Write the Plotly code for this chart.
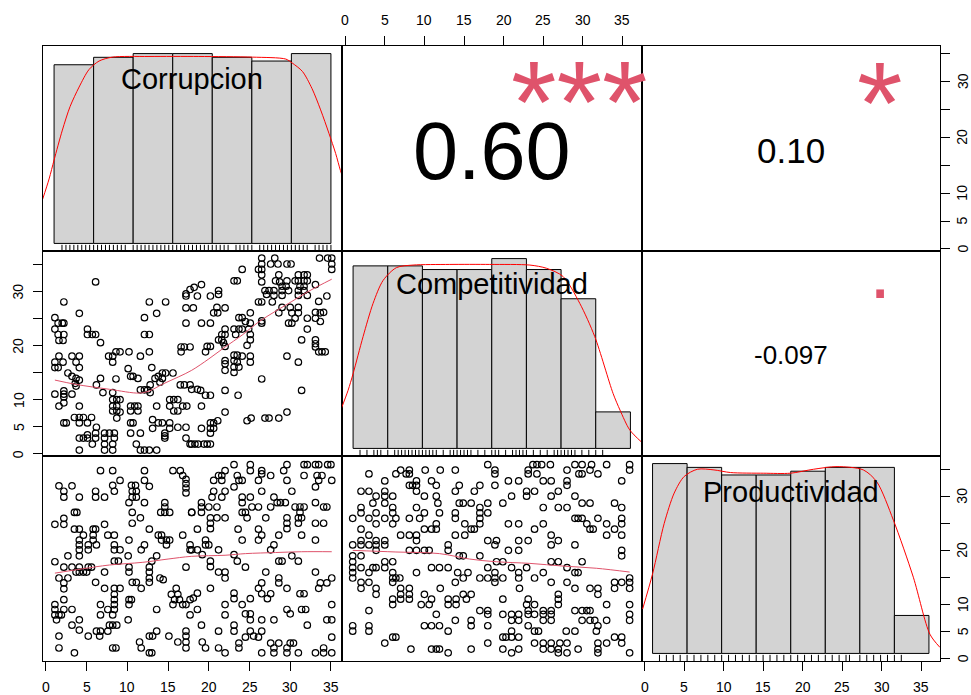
import plotly.graph_objects as go

# ---------------------------------------------------------------- data
variables = ["Corrupcion", "Competitividad", "Productividad"]
data_min = [1, 1, 1]
data_max = [35, 36, 36]

corr_breaks = [0, 5, 10, 15, 20, 25, 30, 35]
corr_counts = [48, 50, 51, 51, 50, 49, 51]
comp_breaks = [0, 5, 10, 15, 20, 25, 30, 35, 40]
comp_counts = [50, 50, 49, 49, 52, 49, 41, 10]
prod_breaks = [0, 5, 10, 15, 20, 25, 30, 35, 40]
prod_counts = [50, 49, 47, 47, 48, 49, 49, 10]

# kernel density curves (histogram units)
corr_dens_x = [-1.47, -0.63, 0.0, 1.05, 2.02, 3.16, 4.42, 5.69, 7.37, 12.0, 18.3, 25.1, 29.3, 30.1, 31.4, 32.6, 33.7, 34.75, 35.6, 36.2, 36.6]
corr_dens_y = [0.0067, 0.0099, 0.0128, 0.0174, 0.0210, 0.0240, 0.0267, 0.0280, 0.0286, 0.0287, 0.0287, 0.0286, 0.0283, 0.0277, 0.0264, 0.0238, 0.0205, 0.0169, 0.0138, 0.0112, 0.0098]
comp_dens_x = [-1.68, -0.72, 0.0, 1.44, 2.88, 4.33, 6.25, 8.65, 13.94, 19.7, 25.5, 27.9, 30.3, 32.7, 34.86, 37.5, 38.5, 39.9, 41.6]
comp_dens_y = [0.0063, 0.0091, 0.0117, 0.0175, 0.0227, 0.0263, 0.0283, 0.0287, 0.0288, 0.0288, 0.0287, 0.0282, 0.0269, 0.0227, 0.0175, 0.0086, 0.0060, 0.0029, 0.0010]
prod_dens_x = [-1.44, 0.0, 1.68, 3.13, 4.57, 6.49, 8.89, 11.3, 16.1, 19.95, 23.3, 26.7, 30.5, 32.45, 34.86, 37.74, 40.14, 41.6]
prod_dens_y = [0.0067, 0.0120, 0.0196, 0.0242, 0.0267, 0.0278, 0.0277, 0.0273, 0.0272, 0.0272, 0.0278, 0.0282, 0.0277, 0.0259, 0.0201, 0.0115, 0.0029, 0.0009]

# scatter: Corrupcion (x) vs Competitividad (y)
pts_corr_comp = [
    (6.1, 31.7), (2.2, 28.0), (4.1, 25.9), (1.1, 25.1), (1.5, 24.1), (2.0, 24.1), (2.2, 24.1), (1.1, 23.0), (1.5, 22.0), (2.2, 22.0),
    (1.6, 20.9), (2.1, 20.9), (5.1, 23.0), (5.1, 22.0), (5.7, 22.0), (6.1, 22.0), (6.7, 20.5), (1.6, 18.0), (1.1, 16.9), (2.1, 16.9),
    (1.1, 15.9), (1.5, 15.9), (3.2, 18.0), (4.1, 18.0), (3.7, 16.9), (4.1, 15.9), (2.7, 14.9), (3.2, 14.3), (3.7, 13.9), (4.1, 13.6),
    (3.6, 13.0), (3.7, 12.5), (1.1, 11.0), (2.2, 11.6), (2.2, 11.0), (2.2, 10.5), (1.6, 8.8), (2.2, 9.4), (3.2, 11.0), (4.1, 8.8),
    (3.5, 6.7), (4.1, 6.7), (4.6, 6.7), (5.6, 6.7), (2.2, 5.7), (2.5, 5.7), (4.1, 5.7), (5.1, 5.7), (6.2, 4.9), (4.1, 2.9),
    (4.6, 2.9), (5.1, 2.9), (6.1, 2.9), (5.1, 3.5), (6.1, 3.8), (4.1, 0.7), (5.7, 1.8), (7.2, 3.8), (7.8, 3.8), (8.4, 3.8),
    (7.2, 2.9), (8.4, 2.9), (7.2, 1.8), (8.2, 1.8), (7.2, 0.7), (8.2, 0.7), (6.7, 13.9), (6.2, 12.7), (7.7, 18.0), (8.2, 18.0),
    (8.6, 18.8), (9.1, 18.8), (8.2, 16.9), (10.2, 18.8), (8.6, 13.8), (7.0, 11.3), (8.2, 11.3), (8.2, 10.0), (8.7, 10.0), (9.1, 10.0),
    (8.2, 8.8), (8.7, 8.8), (8.2, 7.9), (8.7, 7.9), (9.1, 7.7), (8.7, 6.6), (10.4, 8.8), (10.9, 8.8), (11.3, 8.8), (10.4, 7.9),
    (11.3, 7.9), (10.4, 5.7), (10.7, 5.7), (10.4, 3.8), (11.6, 3.8), (10.1, 15.7), (10.4, 14.3), (10.7, 14.3), (11.3, 13.9), (11.6, 11.8),
    (12.1, 11.8), (12.5, 11.8), (12.8, 12.7), (12.8, 11.3), (11.1, 1.8), (11.6, 0.7), (12.1, 0.7), (12.7, 0.7), (13.6, 0.7), (11.6, 18.0),
    (12.7, 18.8), (12.1, 25.1), (12.7, 28.0), (13.6, 25.9), (14.7, 28.0), (12.1, 22.0), (12.7, 22.0), (13.0, 15.9), (13.6, 8.8), (13.4, 13.9),
    (13.8, 14.3), (14.3, 14.9), (14.7, 14.9), (15.6, 14.9), (14.0, 13.2), (14.3, 13.9), (13.1, 6.3), (13.8, 5.7), (14.3, 5.7), (13.1, 4.7),
    (14.6, 3.8), (14.6, 3.3), (14.6, 2.9), (15.2, 5.7), (15.2, 4.7), (16.2, 4.9), (17.2, 4.9), (15.2, 10.0), (15.7, 10.0), (16.2, 10.0),
    (15.2, 8.8), (15.7, 7.9), (16.2, 7.9), (16.8, 8.8), (17.3, 8.8), (16.5, 12.7), (17.0, 12.7), (17.7, 12.7), (17.2, 26.9), (17.2, 29.1),
    (17.2, 29.5), (17.7, 30.3), (16.6, 19.7), (17.0, 19.7), (17.7, 19.7), (16.6, 18.8), (17.2, 24.1), (17.2, 2.9), (17.7, 1.8),
    (26.5, 36.1), (28.1, 36.1), (33.6, 36.1), (34.6, 36.1), (35.1, 36.1), (26.5, 35.0), (27.6, 35.0), (28.5, 35.0), (29.6, 35.0), (30.1, 35.0),
    (35.1, 35.0), (35.1, 34.0), (24.1, 34.0), (26.1, 34.0), (26.5, 34.0), (26.5, 33.0), (28.6, 33.0), (31.0, 33.0), (31.7, 33.0), (32.1, 33.0),
    (23.1, 31.9), (23.5, 31.9), (26.5, 31.7), (28.2, 31.9), (28.7, 31.7), (29.6, 31.9), (30.6, 31.9), (31.0, 31.9), (31.7, 31.9), (32.1, 31.9),
    (29.0, 30.9), (29.5, 30.9), (31.2, 30.9), (31.7, 30.9), (33.1, 31.2), (26.9, 30.1), (27.4, 30.1), (28.0, 30.1), (29.0, 30.1), (29.8, 30.1),
    (31.0, 30.1), (31.7, 30.1), (27.1, 29.4), (28.0, 29.2), (29.0, 29.2), (31.0, 29.2), (32.1, 29.2), (21.2, 30.1), (21.2, 29.4), (19.1, 31.2),
    (18.2, 30.7), (18.6, 29.1), (20.2, 29.1), (18.1, 26.9), (21.0, 27.0), (22.0, 26.9), (20.6, 26.0), (21.1, 26.0), (26.1, 28.0), (26.5, 28.0),
    (27.8, 28.0), (29.0, 27.0), (30.0, 27.0), (31.0, 27.0), (33.5, 28.1), (34.5, 29.1), (33.1, 26.1), (33.7, 26.0), (34.1, 26.1), (28.6, 26.0),
    (30.2, 26.0), (31.0, 26.0), (23.7, 25.1), (24.1, 25.1), (25.1, 26.0), (24.5, 24.4), (25.1, 24.1), (26.5, 24.5), (26.5, 24.1), (29.8, 24.1),
    (30.2, 24.1), (30.6, 25.0), (32.1, 25.0), (33.1, 25.0), (33.7, 24.4), (19.1, 24.1), (20.2, 24.1), (23.1, 23.0), (23.7, 23.0), (24.1, 23.0),
    (24.9, 23.0), (32.1, 23.0), (22.0, 23.0), (21.6, 22.0), (22.0, 22.0), (21.2, 21.0), (21.6, 21.0), (21.8, 20.5), (23.3, 22.0), (25.1, 22.0),
    (25.1, 21.0), (24.7, 20.0), (19.8, 19.8), (20.2, 19.8), (19.6, 18.8), (22.0, 19.8), (31.4, 21.0), (33.1, 21.0), (33.1, 20.3), (33.1, 19.7),
    (33.5, 18.8), (33.9, 18.8), (34.3, 18.8), (23.1, 18.2), (23.5, 18.2), (24.1, 18.0), (25.1, 18.0), (22.0, 17.2), (22.0, 16.6), (22.0, 15.4),
    (23.1, 17.2), (23.5, 16.9), (23.1, 16.0), (23.1, 15.0), (23.7, 16.0), (25.1, 16.9), (29.6, 18.0), (31.0, 16.9), (26.5, 13.8), (31.4, 11.7),
    (17.9, 11.9), (18.6, 11.9), (19.0, 11.7), (19.6, 10.8), (20.2, 10.8), (22.0, 11.7), (23.6, 10.8), (19.1, 8.8), (22.0, 7.7), (24.7, 6.1),
    (25.2, 6.6), (26.9, 6.6), (27.4, 6.6), (28.6, 6.6), (29.6, 7.7), (21.1, 6.1), (20.2, 5.7), (20.6, 5.7), (19.1, 4.7), (20.2, 4.7),
    (20.6, 4.7), (20.2, 3.8), (17.9, 1.8), (18.3, 1.8), (18.7, 1.8), (19.4, 1.8), (19.8, 1.8), (20.2, 1.8),
]

# scatter: Corrupcion (x) vs Productividad (y)
pts_corr_prod = [
    (6.7, 34.7), (8.2, 34.7), (12.1, 34.7), (15.6, 34.7), (16.5, 34.7), (16.8, 33.8), (17.2, 33.1), (17.2, 32.3), (17.2, 31.5), (17.2, 30.6),
    (9.1, 32.9), (12.1, 32.9), (8.2, 32.0), (10.5, 32.0), (11.0, 32.0), (12.7, 31.8), (1.6, 31.9), (2.2, 30.9), (2.2, 29.8), (3.2, 31.9),
    (4.1, 29.8), (6.1, 30.9), (6.1, 29.8), (7.2, 29.8), (8.4, 30.9), (10.6, 30.9), (11.1, 30.9), (10.6, 29.8), (11.1, 29.8), (10.2, 28.8),
    (12.1, 28.8), (14.6, 28.8), (14.6, 28.0), (14.1, 27.0), (14.6, 27.0), (15.2, 27.0), (17.9, 27.0), (3.5, 27.0), (3.8, 27.0), (10.6, 27.0),
    (11.6, 26.0), (10.6, 25.0), (1.1, 24.8), (2.2, 25.9), (2.2, 24.8), (3.5, 23.9), (4.1, 23.9), (5.8, 23.9), (6.1, 23.9), (7.2, 24.8),
    (4.6, 22.8), (5.8, 22.8), (7.6, 22.8), (8.4, 22.8), (4.1, 21.9), (4.1, 21.0), (5.2, 21.0), (5.8, 21.9), (6.2, 21.0), (12.7, 23.9),
    (13.8, 22.8), (14.2, 22.8), (14.2, 21.9), (14.8, 21.9), (15.2, 21.9), (14.8, 21.0), (16.8, 22.8), (10.2, 21.9), (12.1, 21.0), (8.4, 21.0),
    (8.4, 20.1), (9.1, 20.1), (4.1, 20.1), (4.1, 19.0), (2.7, 19.0), (5.2, 20.1), (17.7, 21.0), (17.7, 20.1), (10.1, 19.0), (11.7, 20.1),
    (13.6, 19.0), (13.0, 18.0), (1.1, 17.9), (2.2, 16.9), (3.2, 16.9), (4.1, 16.9), (4.6, 16.0), (5.2, 16.9), (5.6, 16.9), (3.7, 16.0),
    (4.1, 16.0), (5.0, 16.0), (1.6, 14.9), (2.7, 14.9), (2.2, 14.0), (2.2, 12.9), (7.2, 16.0), (8.4, 18.0), (8.9, 18.0), (10.2, 16.9),
    (10.2, 16.0), (12.7, 16.9), (12.7, 16.0), (12.7, 14.9), (12.7, 14.1), (14.0, 14.9), (14.4, 14.6), (17.2, 16.9), (6.1, 14.1), (7.2, 13.0),
    (10.6, 14.1), (11.1, 14.1), (11.7, 13.0), (8.4, 13.0), (9.1, 13.0), (8.4, 11.9), (8.4, 10.9), (8.4, 10.0), (8.4, 9.1), (8.2, 8.1),
    (10.2, 10.9), (10.5, 10.9), (10.2, 10.0), (15.4, 11.9), (16.0, 13.0), (16.2, 11.9), (15.8, 10.9), (16.4, 10.9), (15.6, 10.0), (16.8, 10.0),
    (17.2, 10.0), (17.7, 10.9), (1.1, 10.0), (1.1, 9.1), (1.1, 8.1), (2.2, 10.9), (2.2, 9.1), (1.6, 8.1), (1.9, 8.1), (1.3, 7.2),
    (3.2, 9.1), (6.7, 10.0), (6.7, 8.1), (7.6, 9.1), (13.6, 9.1), (17.7, 8.1), (4.1, 7.2), (3.2, 6.2), (4.1, 5.3), (7.8, 6.2),
    (8.2, 6.2), (8.7, 6.2), (7.6, 5.1), (6.7, 5.1), (6.2, 5.1), (10.1, 7.2), (1.6, 4.2), (1.6, 2.0), (3.5, 1.1), (5.2, 4.2),
    (6.6, 4.2), (13.6, 5.1), (12.7, 4.2), (13.1, 4.2), (11.5, 3.1), (11.7, 2.0), (12.7, 1.1), (13.0, 1.1), (15.1, 4.2), (16.2, 3.1),
    (17.2, 5.1), (17.2, 4.2), (17.2, 3.1), (17.2, 2.0), (8.2, 2.0), (8.6, 2.0),
    (23.1, 35.8), (25.1, 35.8), (25.1, 34.7), (29.6, 35.8), (31.7, 35.8), (32.1, 35.8), (33.1, 35.8), (33.5, 35.8), (34.6, 35.8), (35.0, 35.8),
    (22.0, 34.7), (21.6, 33.8), (21.2, 33.8), (20.6, 32.9), (21.6, 32.9), (23.5, 33.8), (23.7, 32.9), (24.1, 32.9), (26.5, 34.7), (26.5, 34.1),
    (26.1, 32.9), (27.6, 33.8), (29.2, 34.7), (29.6, 32.9), (31.7, 33.8), (33.3, 33.8), (33.9, 33.8), (33.5, 32.9), (35.1, 32.9), (33.1, 31.7),
    (23.1, 31.7), (26.5, 30.9), (30.2, 30.9), (20.6, 30.9), (22.0, 30.9), (20.4, 29.8), (21.6, 29.8), (24.1, 29.8), (25.1, 29.8), (24.1, 28.8),
    (28.0, 29.8), (28.4, 28.8), (28.8, 28.8), (29.4, 28.8), (33.1, 28.8), (19.1, 28.8), (19.1, 28.0), (20.0, 28.0), (21.0, 28.0), (17.9, 27.0),
    (19.1, 27.0), (24.1, 27.0), (24.5, 27.0), (24.7, 26.0), (25.3, 28.0), (26.1, 28.0), (27.6, 28.0), (30.6, 28.0), (31.2, 28.0), (31.7, 28.0),
    (31.2, 27.0), (34.1, 28.0), (34.5, 28.0), (20.2, 26.0), (21.0, 26.0), (22.0, 26.0), (27.0, 26.0), (29.6, 26.0), (31.0, 26.0), (31.4, 26.0),
    (20.2, 25.0), (20.2, 24.0), (29.6, 25.0), (29.6, 24.0), (31.0, 25.0), (33.1, 25.0), (34.1, 25.0), (18.6, 23.9), (23.6, 23.9), (26.1, 23.9),
    (26.5, 22.8), (28.6, 22.8), (31.4, 22.8), (26.1, 21.9), (24.1, 21.9), (33.1, 21.9), (19.6, 21.9), (19.6, 21.0), (20.0, 21.0), (17.9, 20.1),
    (18.6, 20.1), (19.2, 19.2), (21.2, 20.1), (28.0, 21.0), (27.6, 20.1), (23.1, 19.2), (23.5, 18.0), (24.5, 16.9), (20.2, 18.0), (20.2, 17.0),
    (21.2, 16.0), (22.0, 16.0), (22.0, 14.9), (28.6, 18.0), (29.0, 18.0), (30.2, 19.0), (31.0, 18.0), (33.1, 16.0), (27.0, 16.0), (26.5, 14.0),
    (26.1, 13.0), (28.6, 14.9), (28.6, 14.0), (29.6, 13.0), (33.7, 14.0), (34.5, 14.0), (35.1, 14.9), (33.5, 13.0), (20.2, 13.0), (18.6, 12.1),
    (18.1, 11.2), (23.1, 12.1), (23.1, 11.1), (22.0, 10.0), (22.0, 8.1), (24.1, 10.0), (25.1, 11.1), (26.5, 12.0), (27.2, 11.1), (27.6, 12.0),
    (18.6, 9.1), (29.6, 9.1), (30.0, 8.3), (31.4, 9.1), (31.9, 9.1), (31.7, 12.0), (31.2, 12.0), (35.1, 10.0), (34.5, 7.2), (35.1, 7.2),
    (24.5, 8.3), (25.1, 8.3), (25.1, 7.2), (26.5, 7.2), (28.0, 7.2), (32.1, 6.2), (19.1, 6.2), (21.2, 5.1), (23.1, 6.2), (23.1, 5.1),
    (25.1, 5.1), (26.5, 5.1), (25.5, 4.2), (24.5, 4.0), (26.1, 4.0), (35.1, 4.0), (19.2, 3.1), (19.6, 2.0), (21.2, 2.0), (22.0, 1.1),
    (23.7, 2.9), (23.7, 2.0), (26.5, 1.1), (27.6, 2.9), (28.6, 2.9), (28.0, 2.0), (28.0, 1.1), (29.6, 2.0), (30.0, 2.9), (30.4, 2.9),
    (31.0, 1.1), (29.6, 1.1), (33.1, 1.1), (34.1, 2.0), (34.1, 1.1), (35.1, 1.1),
]

# scatter: Competitividad (x) vs Productividad (y), listed by Productividad level
prod_levels = [35.8, 34.8, 34.1, 32.8, 32.0, 30.9, 30.0, 28.7, 27.9, 26.9, 25.9, 24.9, 23.9, 22.8, 21.8, 21.0, 20.0, 19.0,
               17.9, 16.8, 15.9, 14.9, 14.1, 13.0, 11.9, 11.0, 10.0, 8.9, 8.2, 7.1, 6.1, 5.1, 4.0, 2.9, 1.8, 1.1]
comp_at_level = [
    [18.0, 23.7, 24.2, 24.8, 25.9, 29.0, 29.9, 31.1, 33.0, 35.9],
    [7.0, 8.1, 10.1, 12.0, 13.9, 18.9, 23.1, 28.0, 30.9, 35.9],
    [8.1, 18.9, 23.1, 24.2, 29.5, 29.9, 31.9, 3.0, 6.4, 7.7],
    [5.0, 9.0, 10.9, 20.6, 21.9, 25.0, 26.0, 28.0, 34.9],
    [8.1, 8.5, 9.0, 11.5, 14.4, 17.0, 18.9, 28.0],
    [2.0, 3.0, 5.0, 9.0, 13.9, 16.3, 22.9, 23.9, 26.9],
    [3.9, 5.0, 6.0, 10.0, 11.5, 21.0, 22.9, 26.0, 29.0],
    [3.5, 5.0, 11.7, 14.4, 14.9, 15.9, 18.0, 19.9, 29.9, 30.9, 34.0],
    [2.0, 6.0, 9.0, 25.0, 26.9, 28.0, 34.9, 17.0],
    [2.0, 3.9, 6.0, 10.0, 11.9, 13.9, 17.0, 18.0],
    [0.95, 3.0, 5.0, 6.4, 8.1, 9.4, 13.9, 17.0, 29.0, 29.4, 29.9, 31.9, 34.9],
    [3.9, 6.0, 11.5, 15.1, 17.0, 20.6, 21.9, 25.0, 30.5, 33.0, 34.9],
    [2.0, 10.0, 10.9, 11.5, 15.9, 16.3, 23.9, 30.9, 31.3, 34.0],
    [3.0, 7.0, 8.1, 9.0, 13.9, 15.1, 26.0, 33.0, 34.9],
    [2.0, 3.9, 5.0, 9.0, 18.0, 19.1, 21.9, 23.1, 26.9],
    [0.95, 2.0, 3.0, 3.9, 5.0, 13.0, 18.9, 26.0, 29.0],
    [3.9, 8.1, 9.0, 10.0, 10.6, 13.0, 20.6, 21.9, 34.9],
    [0.95, 2.0, 14.4, 14.9, 17.0, 34.9],
    [0.95, 5.0, 6.0, 19.1, 19.9, 26.0, 26.9, 29.9],
    [0.95, 2.0, 3.5, 3.9, 5.0, 10.9, 11.9, 13.0, 18.0, 21.0, 22.9, 28.0],
    [0.95, 3.0, 6.0, 9.0, 14.2, 15.5, 18.9, 21.9, 25.0, 29.0, 29.4],
    [0.95, 6.0, 6.4, 6.9, 14.9, 17.0, 18.0, 18.9, 19.9, 21.9, 23.9, 35.9],
    [2.0, 3.0, 6.0, 13.9, 18.9, 26.0, 28.0, 34.0, 34.9, 35.9],
    [2.0, 3.9, 7.0, 8.1, 12.0, 22.0, 29.0, 30.9, 31.9, 34.0, 35.9],
    [3.9, 7.0, 8.1, 10.0, 14.9, 15.9, 26.9, 31.9],
    [6.0, 7.0, 8.1, 10.9, 13.0, 14.0, 15.3, 19.9, 23.1, 26.9],
    [6.0, 9.6, 10.6, 13.0, 14.0, 22.9, 23.9, 26.9, 33.0, 35.9],
    [3.0, 17.0, 18.0, 23.1, 25.0, 26.0, 29.0, 29.9, 30.5, 30.9],
    [11.5, 18.0, 19.9, 21.0, 21.9, 23.1, 23.9, 25.0, 26.0, 35.9],
    [13.9, 15.9, 21.0, 21.9, 25.0, 26.0, 29.9, 30.9, 31.5, 33.0, 35.9],
    [0.95, 3.0, 10.0, 10.9, 11.9, 15.9, 18.0, 23.1, 31.9],
    [0.95, 3.0, 13.0, 21.0, 23.9, 24.4, 27.9, 29.0, 31.7],
    [6.0, 6.4, 19.9, 20.3, 21.0, 21.9, 34.0, 34.9],
    [5.0, 18.0, 23.9, 25.0, 26.0, 27.1, 28.0, 31.9, 33.0, 34.9],
    [8.3, 10.9, 11.5, 11.9, 15.9, 19.9, 21.9, 25.0, 26.0, 26.9, 29.4, 31.9],
    [13.0, 21.0, 26.9, 28.0, 31.9, 35.9],
]

# smoothed (lowess) lines
smooth_corr_comp_x = [1.1, 3.7, 7.8, 11.5, 12.7, 14.4, 16.3, 17.9, 20.0, 22.0, 24.1, 26.1, 28.2, 30.2, 32.3, 35.1]
smooth_corr_comp_y = [13.6, 12.8, 11.9, 11.2, 11.6, 12.9, 14.2, 15.4, 17.5, 19.7, 21.9, 24.3, 26.3, 28.1, 30.0, 32.2]
smooth_corr_prod_x = [1.1, 4.5, 7.8, 11.9, 15.0, 17.9, 22.0, 24.5, 28.2, 31.4, 35.1]
smooth_corr_prod_y = [15.8, 16.6, 17.3, 17.8, 18.4, 18.9, 19.1, 19.4, 19.6, 19.75, 19.75]
smooth_comp_prod_x = [0.95, 6.4, 11.9, 15.7, 19.1, 23.3, 27.5, 31.7, 35.9]
smooth_comp_prod_y = [20.0, 19.7, 19.4, 18.4, 17.9, 17.6, 17.1, 16.7, 16.0]

# correlation panel texts
cor_text = ["0.60", "0.10", "-0.097"]
signif_text = ["***", "*", "."]

axis_tick_vals = [0, 5, 10, 15, 20, 25, 30, 35]
axis_tick_text = ["0", "5", "10", "15", "20", "25", "30", "35"]
side_tick_text = ["0", "5", "10", "", "20", "", "30", ""]

# ---------------------------------------------------------------- style / layout
W, H = 971, 695
FONT = "Liberation Sans, Arial, Helvetica, sans-serif"
PINK = "#DF536B"
TICK_FONT = 14
col_px = [43, 342, 641.5, 940]
row_px = [46, 251, 456, 661]


def xdom(c):
    return [col_px[c] / W, col_px[c + 1] / W]


def ydom(r):
    return [1 - row_px[r + 1] / H, 1 - row_px[r] / H]


def padded(lo, hi, f=0.04):
    d = (hi - lo) * f
    return [lo - d, hi + d]


def aid(i):
    return "" if i == 1 else str(i)


fig = go.Figure()
layout_axes = {}
box = dict(showgrid=False, zeroline=False, showline=True, mirror=True, linecolor="black",
           linewidth=1, ticks="", showticklabels=False, fixedrange=True, automargin=False)
tick_style = dict(ticks="outside", ticklen=9, tickwidth=1, tickcolor="black", showticklabels=False,
                  tickmode="array", tickvals=axis_tick_vals)

hist_data = [(corr_breaks, corr_counts, corr_dens_x, corr_dens_y, [p[0] for p in pts_corr_comp]),
             (comp_breaks, comp_counts, comp_dens_x, comp_dens_y, [x for row in comp_at_level for x in row]),
             (prod_breaks, prod_counts, prod_dens_x, prod_dens_y, [y for y, row in zip(prod_levels, comp_at_level) for _ in row])]

scatter_data = {(1, 0): ([p[0] for p in pts_corr_comp], [p[1] for p in pts_corr_comp], smooth_corr_comp_x, smooth_corr_comp_y),
                (2, 0): ([p[0] for p in pts_corr_prod], [p[1] for p in pts_corr_prod], smooth_corr_prod_x, smooth_corr_prod_y),
                (2, 1): ([x for row in comp_at_level for x in row],
                         [y for y, row in zip(prod_levels, comp_at_level) for _ in row],
                         smooth_comp_prod_x, smooth_comp_prod_y)}

var_range = [padded(data_min[k], data_max[k]) for k in range(3)]
annotations = []
upper_idx = {(0, 1): 0, (0, 2): 1, (1, 2): 2}
cor_sizes = [81, 35, 26]
sig_sizes = [117, 117, 80]
cor_yshift = [-3, -2, -1]
sig_yshift = [-16, -17, 22]
sig_xshift = [-2, 0, 0]

for r in range(3):
    for c in range(3):
        i = r * 3 + c + 1
        xa = dict(box, domain=xdom(c), anchor="y" + aid(i))
        ya = dict(box, domain=ydom(r), anchor="x" + aid(i))
        xref, yref = "x" + aid(i), "y" + aid(i)
        if r == c:
            breaks, counts, dx, dy, rugvals = hist_data[r]
            n = sum(counts)
            widths = [breaks[k + 1] - breaks[k] for k in range(len(counts))]
            dens = [counts[k] / (n * widths[k]) for k in range(len(counts))]
            centers = [(breaks[k] + breaks[k + 1]) / 2 for k in range(len(counts))]
            xr = padded(breaks[0], breaks[-1])
            yr = padded(0, max(dens))
            xa["range"] = xr
            ya["range"] = yr
            fig.add_trace(go.Bar(x=centers, y=dens, width=widths, marker=dict(color="#D3D3D3",
                                 line=dict(color="black", width=1)), xaxis=xref, yaxis=yref,
                                 showlegend=False, hoverinfo="skip"))
            rug_unique = sorted(set(round(v * 2) / 2 for v in rugvals))
            rx, ry = [], []
            tick_h = 0.03 * (yr[1] - yr[0])
            for v in rug_unique:
                rx += [v, v, None]
                ry += [yr[0], yr[0] + tick_h, None]
            fig.add_trace(go.Scatter(x=rx, y=ry, mode="lines", line=dict(color="black", width=1),
                                     xaxis=xref, yaxis=yref, showlegend=False, hoverinfo="skip"))
            fig.add_trace(go.Scatter(x=dx, y=dy, mode="lines", line=dict(color="red", width=1, shape="spline", smoothing=0.8),
                                     xaxis=xref, yaxis=yref, showlegend=False, hoverinfo="skip"))
            label_shift = [1, 1, -2][r]
            annotations.append(dict(text=variables[r], x=0.5, y=0.833, xref=xref + " domain", yref=yref + " domain",
                                    showarrow=False, xanchor="center", yanchor="middle", yshift=label_shift,
                                    font=dict(family=FONT, size=29, color="black")))
        elif r > c:
            xs, ys, sx, sy = scatter_data[(r, c)]
            xa["range"] = var_range[c]
            ya["range"] = var_range[r]
            fig.add_trace(go.Scatter(x=xs, y=ys, mode="markers",
                                     marker=dict(symbol="circle-open", size=6.5, color="black", line=dict(width=1.2, color="black")),
                                     xaxis=xref, yaxis=yref, showlegend=False, hoverinfo="skip"))
            fig.add_trace(go.Scatter(x=sx, y=sy, mode="lines", line=dict(color=PINK, width=1, shape="spline"),
                                     xaxis=xref, yaxis=yref, showlegend=False, hoverinfo="skip"))
        else:
            xa["range"] = var_range[c]
            ya["range"] = var_range[r]
            fig.add_trace(go.Scatter(x=[], y=[], mode="markers", xaxis=xref, yaxis=yref,
                                     showlegend=False, hoverinfo="skip"))
            k = upper_idx[(r, c)]
            annotations.append(dict(text=cor_text[k], x=0.5, y=0.5, xref=xref + " domain", yref=yref + " domain",
                                    showarrow=False, xanchor="center", yanchor="middle", yshift=cor_yshift[k],
                                    font=dict(family=FONT, size=cor_sizes[k], color="black")))
            annotations.append(dict(text=signif_text[k], x=0.8, y=0.8, xref=xref + " domain", yref=yref + " domain",
                                    showarrow=False, xanchor="center", yanchor="middle", yshift=sig_yshift[k],
                                    xshift=sig_xshift[k], font=dict(family=FONT, size=sig_sizes[k], color=PINK)))
        # outer axes with ticks (pairs style)
        if r == 0 and c == 1:
            xa.update(tick_style, side="top")
        if r == 0 and c == 2:
            ya.update(tick_style, side="right")
        if r == 1 and c == 0:
            ya.update(tick_style, side="left")
        if r == 2 and c == 0:
            xa.update(tick_style, side="bottom")
        layout_axes["xaxis" + aid(i)] = xa
        layout_axes["yaxis" + aid(i)] = ya

# extra scale axes for the bottom-right (histogram) panel
layout_axes["xaxis10"] = dict(tick_style, overlaying="x9", anchor="y10", side="bottom", range=var_range[2],
                              showgrid=False, zeroline=False, showline=False, fixedrange=True, automargin=False)
layout_axes["yaxis10"] = dict(tick_style, overlaying="y9", anchor="x10", side="right", range=var_range[2],
                              showgrid=False, zeroline=False, showline=False, fixedrange=True, automargin=False)
fig.add_trace(go.Scatter(x=[], y=[], mode="markers", xaxis="x10", yaxis="y10", showlegend=False, hoverinfo="skip"))

# tick labels (pairs style: top / bottom numbers, rotated side numbers)
tick_font = dict(family=FONT, size=TICK_FONT, color="black")
top_y = 1 - 20.5 / H
bottom_y = 1 - 686.5 / H
left_x = 18.3 / W
right_x = 962.5 / W
for v, t in zip(axis_tick_vals, axis_tick_text):
    for xr_ in ("x2", "x7", "x10"):
        annotations.append(dict(text=t, x=v, xref=xr_, y=(top_y if xr_ == "x2" else bottom_y), yref="paper",
                                showarrow=False, xanchor="center", yanchor="middle", borderpad=0, font=tick_font))
for v, t in zip(axis_tick_vals, side_tick_text):
    if not t:
        continue
    for yr_, xpos in (("y3", right_x), ("y4", left_x), ("y10", right_x)):
        annotations.append(dict(text=t, y=v, yref=yr_, x=xpos, xref="paper", showarrow=False, textangle=-90,
                                xanchor="center", yanchor="middle", borderpad=0, font=tick_font))

fig.update_layout(template="none", width=W, height=H, margin=dict(l=0, r=0, t=0, b=0, autoexpand=False),
                  paper_bgcolor="white", plot_bgcolor="white", showlegend=False, annotations=annotations,
                  font=dict(family=FONT, color="black"), **layout_axes)
fig.write_html("out.html", config={"displayModeBar": False, "staticPlot": True},
               post_script="document.body.style.margin='0px'; document.body.style.overflow='hidden';")
